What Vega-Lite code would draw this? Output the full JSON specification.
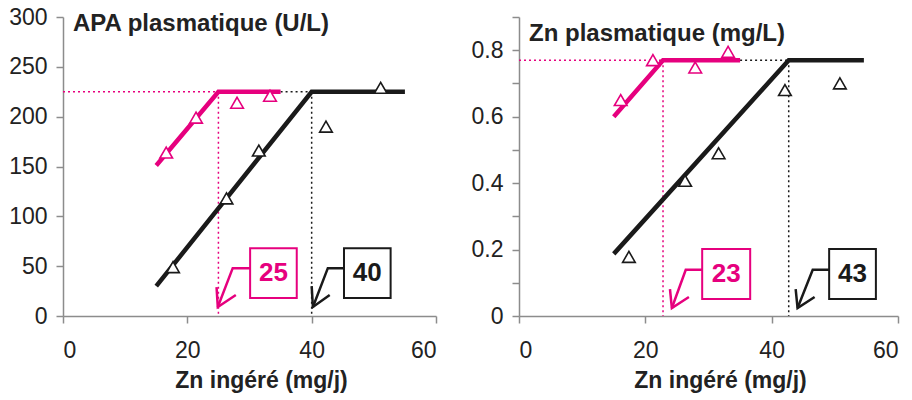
{
  "$schema": "https://vega.github.io/schema/vega-lite/v6.json",
  "padding": {"left": 8, "top": 6, "right": 2, "bottom": 2},
  "spacing": 34,
  "config": {
    "view": {"stroke": null},
    "font": "Liberation Sans",
    "axis": {
      "domainColor": "#8c8c8c", "domainWidth": 1.5,
      "tickColor": "#8c8c8c", "tickWidth": 1.5, "tickSize": 7,
      "grid": false,
      "labelFontSize": 23, "labelColor": "#222222",
      "titleFontSize": 23, "titleFontWeight": "bold", "titleColor": "#222222"
    },
    "axisX": {"labelPadding": 16, "titlePadding": 7},
    "axisY": {"labelPadding": 9}
  },
  "datasets": {
    "apa_guides": [
      {"serie": "s1", "zn": 0, "zn2": 25, "val": 225, "val2": 225},
      {"serie": "s1", "zn": 25, "zn2": 25, "val": 225, "val2": 0},
      {"serie": "s2", "zn": 35, "zn2": 40, "val": 225, "val2": 225},
      {"serie": "s2", "zn": 40, "zn2": 40, "val": 225, "val2": 0}
    ],
    "apa_lines": [
      {"serie": "s1", "zn": 15, "val": 151},
      {"serie": "s1", "zn": 25, "val": 225},
      {"serie": "s1", "zn": 35, "val": 225},
      {"serie": "s2", "zn": 15, "val": 30},
      {"serie": "s2", "zn": 40, "val": 225},
      {"serie": "s2", "zn": 55, "val": 225}
    ],
    "apa_points": [
      {"serie": "s1", "zn": 16.6, "val": 164},
      {"serie": "s1", "zn": 21.4, "val": 199},
      {"serie": "s1", "zn": 28, "val": 214},
      {"serie": "s1", "zn": 33.3, "val": 221},
      {"serie": "s2", "zn": 17.7, "val": 49},
      {"serie": "s2", "zn": 26.3, "val": 118},
      {"serie": "s2", "zn": 31.5, "val": 166},
      {"serie": "s2", "zn": 42.3, "val": 190},
      {"serie": "s2", "zn": 51.1, "val": 229}
    ],
    "apa_arrows": [
      {"serie": "s1", "seg": "a", "o": 1, "zn": 30.1, "val": 48},
      {"serie": "s1", "seg": "a", "o": 2, "zn": 27.3, "val": 48},
      {"serie": "s1", "seg": "a", "o": 3, "zn": 24.9, "val": 9},
      {"serie": "s1", "seg": "b", "o": 1, "zn": 24.7, "val": 29},
      {"serie": "s1", "seg": "b", "o": 2, "zn": 24.9, "val": 9},
      {"serie": "s1", "seg": "b", "o": 3, "zn": 27.8, "val": 21},
      {"serie": "s2", "seg": "c", "o": 1, "zn": 45.2, "val": 48},
      {"serie": "s2", "seg": "c", "o": 2, "zn": 42.6, "val": 48},
      {"serie": "s2", "seg": "c", "o": 3, "zn": 40.2, "val": 9},
      {"serie": "s2", "seg": "d", "o": 1, "zn": 40.0, "val": 30},
      {"serie": "s2", "seg": "d", "o": 2, "zn": 40.2, "val": 9},
      {"serie": "s2", "seg": "d", "o": 3, "zn": 42.9, "val": 21}
    ],
    "apa_boxes": [
      {"serie": "s1", "label": "25", "zn": 30.1, "zn2": 37.6, "val": 18, "val2": 68, "znc": 33.85, "valc": 43},
      {"serie": "s2", "label": "40", "zn": 45.2, "zn2": 52.7, "val": 18, "val2": 68, "znc": 48.95, "valc": 43}
    ],
    "zn_guides": [
      {"serie": "s1", "zn": 0, "zn2": 22.8, "val": 0.77, "val2": 0.77},
      {"serie": "s1", "zn": 22.8, "zn2": 22.8, "val": 0.77, "val2": 0},
      {"serie": "s2", "zn": 35, "zn2": 42.7, "val": 0.77, "val2": 0.77},
      {"serie": "s2", "zn": 42.7, "zn2": 42.7, "val": 0.77, "val2": 0}
    ],
    "zn_lines": [
      {"serie": "s1", "zn": 15, "val": 0.60},
      {"serie": "s1", "zn": 22.8, "val": 0.77},
      {"serie": "s1", "zn": 35, "val": 0.77},
      {"serie": "s2", "zn": 15, "val": 0.187},
      {"serie": "s2", "zn": 42.7, "val": 0.77},
      {"serie": "s2", "zn": 54.6, "val": 0.77}
    ],
    "zn_points": [
      {"serie": "s1", "zn": 16.1, "val": 0.65},
      {"serie": "s1", "zn": 21.2, "val": 0.77},
      {"serie": "s1", "zn": 27.9, "val": 0.748},
      {"serie": "s1", "zn": 33.1, "val": 0.795},
      {"serie": "s2", "zn": 17.4, "val": 0.178},
      {"serie": "s2", "zn": 26.3, "val": 0.407},
      {"serie": "s2", "zn": 31.6, "val": 0.49},
      {"serie": "s2", "zn": 42.1, "val": 0.68},
      {"serie": "s2", "zn": 50.8, "val": 0.70}
    ],
    "zn_arrows": [
      {"serie": "s1", "seg": "a", "o": 1, "zn": 29.0, "val": 0.139},
      {"serie": "s1", "seg": "a", "o": 2, "zn": 26.4, "val": 0.139},
      {"serie": "s1", "seg": "a", "o": 3, "zn": 24.2, "val": 0.024},
      {"serie": "s1", "seg": "b", "o": 1, "zn": 23.9, "val": 0.081},
      {"serie": "s1", "seg": "b", "o": 2, "zn": 24.2, "val": 0.024},
      {"serie": "s1", "seg": "b", "o": 3, "zn": 26.9, "val": 0.057},
      {"serie": "s2", "seg": "c", "o": 1, "zn": 49.1, "val": 0.139},
      {"serie": "s2", "seg": "c", "o": 2, "zn": 46.5, "val": 0.139},
      {"serie": "s2", "seg": "c", "o": 3, "zn": 44.1, "val": 0.024},
      {"serie": "s2", "seg": "d", "o": 1, "zn": 43.8, "val": 0.081},
      {"serie": "s2", "seg": "d", "o": 2, "zn": 44.1, "val": 0.024},
      {"serie": "s2", "seg": "d", "o": 3, "zn": 46.8, "val": 0.057}
    ],
    "zn_boxes": [
      {"serie": "s1", "label": "23", "zn": 29.0, "zn2": 36.6, "val": 0.051, "val2": 0.202, "znc": 32.8, "valc": 0.127},
      {"serie": "s2", "label": "43", "zn": 49.1, "zn2": 56.5, "val": 0.051, "val2": 0.202, "znc": 52.8, "valc": 0.127}
    ]
  },
  "hconcat": [
    {
      "width": 373,
      "height": 299,
      "title": {"text": "APA plasmatique (U/L)", "anchor": "start", "frame": "group", "offset": -30, "dx": 10, "fontSize": 24, "fontWeight": "bold", "color": "#222222"},
      "encoding": {
        "x": {"field": "zn", "type": "quantitative", "scale": {"domain": [0, 60], "nice": false}, "axis": {"values": [0, 20, 40, 60], "title": "Zn ingéré (mg/j)", "titleX": 198}},
        "y": {"field": "val", "type": "quantitative", "scale": {"domain": [0, 300], "nice": false}, "axis": {"values": [0, 50, 100, 150, 200, 250, 300], "title": null}}
      },
      "layer": [
        {
          "data": {"name": "apa_guides"},
          "mark": {"type": "rule", "strokeDash": [2, 3], "strokeWidth": 1.5},
          "encoding": {
            "x2": {"field": "zn2"}, "y2": {"field": "val2"},
            "color": {"field": "serie", "type": "nominal", "scale": {"domain": ["s1", "s2"], "range": ["#e6007e", "#1a1a1a"]}, "legend": null}
          }
        },
        {
          "data": {"name": "apa_lines"},
          "mark": {"type": "line", "strokeWidth": 4.5},
          "encoding": {
            "color": {"field": "serie", "type": "nominal", "scale": {"domain": ["s1", "s2"], "range": ["#e6007e", "#1a1a1a"]}, "legend": null},
            "detail": {"field": "serie"}
          }
        },
        {
          "data": {"name": "apa_points"},
          "mark": {"type": "point", "shape": "triangle-up", "filled": true, "fill": "white", "size": 160, "strokeWidth": 1.6, "opacity": 1},
          "encoding": {
            "stroke": {"field": "serie", "type": "nominal", "scale": {"domain": ["s1", "s2"], "range": ["#e6007e", "#1a1a1a"]}, "legend": null}
          }
        },
        {
          "data": {"name": "apa_arrows"},
          "mark": {"type": "line", "strokeWidth": 2.5},
          "encoding": {
            "color": {"field": "serie", "type": "nominal", "scale": {"domain": ["s1", "s2"], "range": ["#e6007e", "#1a1a1a"]}, "legend": null},
            "detail": {"field": "seg"},
            "order": {"field": "o"}
          }
        },
        {
          "data": {"name": "apa_boxes"},
          "mark": {"type": "rect", "fill": "white", "strokeWidth": 2},
          "encoding": {
            "x2": {"field": "zn2"}, "y2": {"field": "val2"},
            "stroke": {"field": "serie", "type": "nominal", "scale": {"domain": ["s1", "s2"], "range": ["#e6007e", "#1a1a1a"]}, "legend": null}
          }
        },
        {
          "data": {"name": "apa_boxes"},
          "mark": {"type": "text", "fontSize": 26, "fontWeight": "bold", "baseline": "middle", "align": "center"},
          "encoding": {
            "x": {"field": "znc", "type": "quantitative"},
            "y": {"field": "valc", "type": "quantitative"},
            "text": {"field": "label"},
            "color": {"field": "serie", "type": "nominal", "scale": {"domain": ["s1", "s2"], "range": ["#e6007e", "#1a1a1a"]}, "legend": null}
          }
        }
      ]
    },
    {
      "width": 379,
      "height": 299,
      "title": {"text": "Zn plasmatique (mg/L)", "anchor": "start", "frame": "group", "offset": -30, "dx": 10, "fontSize": 24, "fontWeight": "bold", "color": "#222222"},
      "encoding": {
        "x": {"field": "zn", "type": "quantitative", "scale": {"domain": [0, 60], "nice": false}, "axis": {"values": [0, 20, 40, 60], "title": "Zn ingéré (mg/j)", "titleX": 201}},
        "y": {"field": "val", "type": "quantitative", "scale": {"domain": [0, 0.9], "nice": false}, "axis": {"values": [0, 0.1, 0.2, 0.3, 0.4, 0.5, 0.6, 0.7, 0.8, 0.9], "labelExpr": "round(datum.value*10) % 2 === 0 && round(datum.value*10) < 9 ? toString(round(datum.value*10)/10) : ''", "title": null}}
      },
      "layer": [
        {
          "data": {"name": "zn_guides"},
          "mark": {"type": "rule", "strokeDash": [2, 3], "strokeWidth": 1.5},
          "encoding": {
            "x2": {"field": "zn2"}, "y2": {"field": "val2"},
            "color": {"field": "serie", "type": "nominal", "scale": {"domain": ["s1", "s2"], "range": ["#e6007e", "#1a1a1a"]}, "legend": null}
          }
        },
        {
          "data": {"name": "zn_lines"},
          "mark": {"type": "line", "strokeWidth": 4.5},
          "encoding": {
            "color": {"field": "serie", "type": "nominal", "scale": {"domain": ["s1", "s2"], "range": ["#e6007e", "#1a1a1a"]}, "legend": null},
            "detail": {"field": "serie"}
          }
        },
        {
          "data": {"name": "zn_points"},
          "mark": {"type": "point", "shape": "triangle-up", "filled": true, "fill": "white", "size": 160, "strokeWidth": 1.6, "opacity": 1},
          "encoding": {
            "stroke": {"field": "serie", "type": "nominal", "scale": {"domain": ["s1", "s2"], "range": ["#e6007e", "#1a1a1a"]}, "legend": null}
          }
        },
        {
          "data": {"name": "zn_arrows"},
          "mark": {"type": "line", "strokeWidth": 2.5},
          "encoding": {
            "color": {"field": "serie", "type": "nominal", "scale": {"domain": ["s1", "s2"], "range": ["#e6007e", "#1a1a1a"]}, "legend": null},
            "detail": {"field": "seg"},
            "order": {"field": "o"}
          }
        },
        {
          "data": {"name": "zn_boxes"},
          "mark": {"type": "rect", "fill": "white", "strokeWidth": 2},
          "encoding": {
            "x2": {"field": "zn2"}, "y2": {"field": "val2"},
            "stroke": {"field": "serie", "type": "nominal", "scale": {"domain": ["s1", "s2"], "range": ["#e6007e", "#1a1a1a"]}, "legend": null}
          }
        },
        {
          "data": {"name": "zn_boxes"},
          "mark": {"type": "text", "fontSize": 26, "fontWeight": "bold", "baseline": "middle", "align": "center"},
          "encoding": {
            "x": {"field": "znc", "type": "quantitative"},
            "y": {"field": "valc", "type": "quantitative"},
            "text": {"field": "label"},
            "color": {"field": "serie", "type": "nominal", "scale": {"domain": ["s1", "s2"], "range": ["#e6007e", "#1a1a1a"]}, "legend": null}
          }
        }
      ]
    }
  ]
}
